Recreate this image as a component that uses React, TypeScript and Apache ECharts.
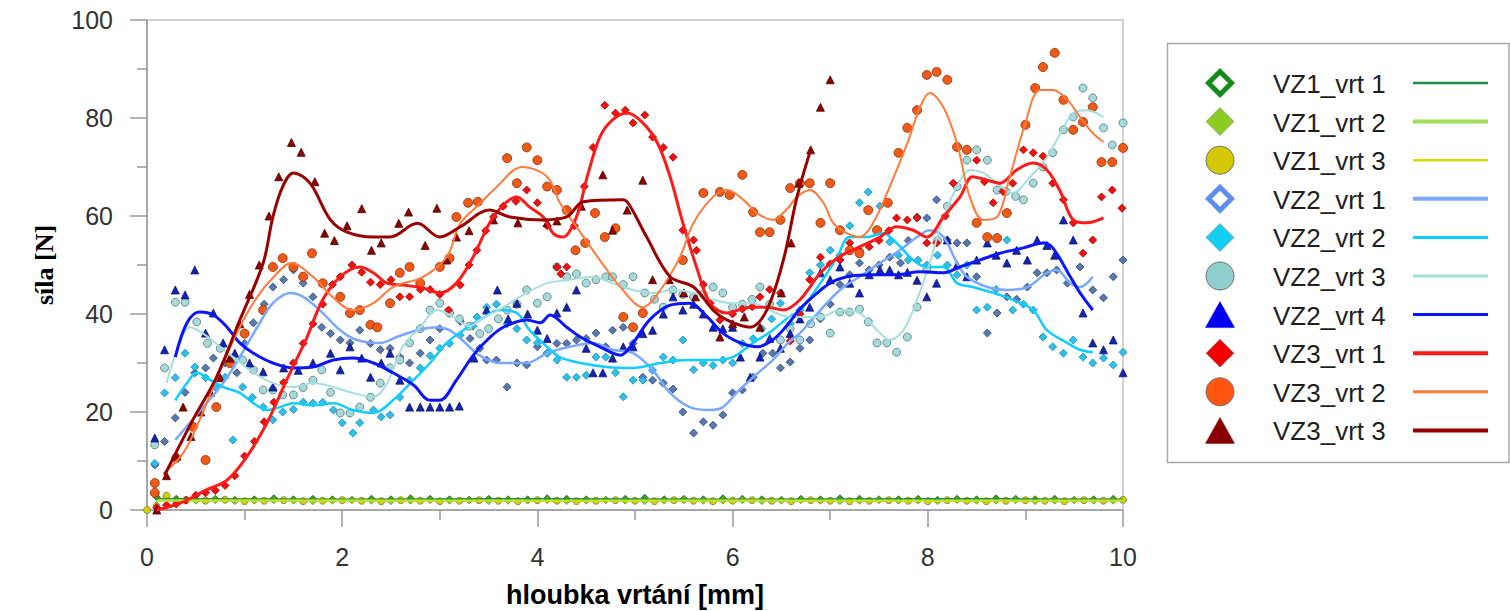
import React, { useEffect, useRef } from "react";
import * as echarts from "echarts";

type P = [number, number];

const X_MIN = 0, X_MAX = 10, X_STEP = 2;
const Y_MIN = 0, Y_MAX = 100, Y_STEP = 20;
const X_TITLE = "hloubka vrtání [mm]";
const Y_TITLE = "síla [N]";

const SERIES_NAMES = [
  "VZ1_vrt 1", "VZ1_vrt 2", "VZ1_vrt 3",
  "VZ2_vrt 1", "VZ2_vrt 2", "VZ2_vrt 3", "VZ2_vrt 4",
  "VZ3_vrt 1", "VZ3_vrt 2", "VZ3_vrt 3",
];

// VZ1 measurements (flat near 2 N)
const VZ1_DEPTH_A = [0.1,0.3,0.5,0.7,0.9,1.1,1.3,1.5,1.7,1.9,2.1,2.3,2.5,2.7,2.9,3.1,3.3,3.5,3.7,3.9,4.1,4.3,4.5,4.7,4.9,5.1,5.3,5.5,5.7,5.9,6.1,6.3,6.5,6.7,6.9,7.1,7.3,7.5,7.7,7.9,8.1,8.3,8.5,8.7,8.9,9.1,9.3,9.5,9.7,9.9];
const VZ1_DEPTH_B = [0,0.2,0.4,0.6,0.8,1.0,1.2,1.4,1.6,1.8,2.0,2.2,2.4,2.6,2.8,3.0,3.2,3.4,3.6,3.8,4.0,4.2,4.4,4.6,4.8,5.0,5.2,5.4,5.6,5.8,6.0,6.2,6.4,6.6,6.8,7.0,7.2,7.4,7.6,7.8,8.0,8.2,8.4,8.6,8.8,9.0,9.2,9.4,9.6,9.8,10.0];
const VZ1_VRT1_VALUES = [2.6,2.3,2.2,2.3,2.1,2.2,2.4,2.2,2.3,2.2,2.1,2.3,2.2,2.4,2.3,2.2,2.1,2.3,2.2,2.2,2.4,2.3,2.2,2.1,2.3,2.5,2.2,2.3,2.2,2.4,2.3,2.2,2.1,2.3,2.2,2.4,2.3,2.2,2.2,2.3,2.1,2.3,2.2,2.4,2.3,2.2,2.3,2.1,2.2,2.3];
const VZ1_VRT2_VALUES = [1.0,1.8,1.9,2.0,1.8,1.9,2.0,1.9,1.8,1.9,2.0,1.9,1.8,1.9,2.0,1.9,2.0,1.8,1.9,1.9,2.0,1.8,1.9,2.0,1.9,1.8,1.9,2.0,1.9,1.9,2.0,1.8,1.9,2.0,1.9,1.8,1.9,2.0,1.9,1.9,1.8,2.0,1.9,1.9,2.0,1.8,1.9,2.0,1.9,1.9];
const VZ1_VRT3_VALUES = [0,2.9,2.0,1.9,2.1,1.8,1.9,2.0,1.8,1.9,2.0,1.9,1.8,2.0,1.9,1.8,1.9,2.0,1.9,1.8,2.0,1.9,1.8,1.9,2.0,1.9,1.8,2.0,1.9,1.8,1.9,2.0,1.9,1.8,2.0,1.9,1.8,1.9,2.0,1.9,1.8,2.0,1.9,1.8,1.9,2.0,1.9,1.8,2.0,1.9,2.1];
const VZ1_VRT1_TREND: P[] = [[0.1,2.3],[2,2.2],[4,2.3],[6,2.2],[8,2.3],[10,2.2]];
const VZ1_VRT2_TREND: P[] = [[0.1,1.9],[2,1.9],[4,1.9],[6,1.9],[8,1.9],[10,1.9]];
const VZ1_VRT3_TREND: P[] = [[0.1,2.0],[2,2.0],[4,1.9],[6,2.0],[8,1.9],[10,2.0]];

// VZ2_vrt 1
const VZ2_VRT1_PTS: P[] = [[0.08,9.2],[0.18,14],[0.29,18.8],[0.39,24],[0.49,28],[0.6,29],[0.68,31],[0.8,30],[0.92,28],[1.0,34],[1.09,38.2],[1.2,42],[1.29,45.5],[1.4,47],[1.5,49],[1.6,46.3],[1.7,43.5],[1.79,37.3],[1.88,36],[1.98,34.7],[2.08,34.1],[2.18,36.7],[2.29,34],[2.39,32.7],[2.49,33],[2.59,31.2],[2.69,30],[2.8,32],[2.9,34.7],[3.0,37],[3.1,40.2],[3.21,38.5],[3.31,35],[3.41,33],[3.48,30.6],[3.58,30.6],[3.69,25.1],[3.79,30],[3.89,29.6],[4.0,33.3],[4.1,32],[4.2,34],[4.3,34],[4.4,34.7],[4.5,35],[4.6,36.1],[4.7,33.3],[4.77,36.7],[4.88,37.3],[4.98,34],[5.08,27.1],[5.18,26.5],[5.29,25.9],[5.39,24.7],[5.49,20],[5.6,15.7],[5.7,18],[5.8,17.3],[5.9,19.4],[6.0,23.9],[6.1,24.5],[6.21,27.1],[6.31,32],[6.41,32],[6.49,29],[6.59,30.2],[6.69,33],[6.79,34.7],[6.9,39],[7.0,42],[7.1,46],[7.2,48],[7.3,50.4],[7.4,49],[7.5,50],[7.61,51.6],[7.72,50.4],[7.8,55],[7.89,59.8],[7.99,59.6],[8.09,63.3],[8.2,55.1],[8.3,54.5],[8.4,54.5],[8.5,47.6],[8.61,36.1],[8.71,40.2],[8.81,43.5],[8.91,43],[9.02,45.5],[9.12,48.4],[9.22,48.4],[9.32,49],[9.43,46.3],[9.56,49.6],[9.69,44.9],[9.8,43.3],[9.9,47.6],[10.0,51]];
const VZ2_VRT1_TREND: P[] = [[0.29,14.3],[0.44,17.8],[0.61,21.8],[0.78,25.9],[0.95,31.2],[1.13,37.3],[1.29,42.2],[1.47,44.3],[1.6,43.5],[1.77,40.8],[1.98,36.7],[2.15,34.7],[2.39,34.1],[2.56,35.3],[2.77,36.7],[2.97,37.3],[3.1,36.7],[3.24,34.5],[3.41,31.5],[3.62,30],[3.89,30],[4.1,32],[4.33,33.3],[4.57,34.1],[4.77,32.7],[4.98,32],[5.18,28.6],[5.36,23.9],[5.56,21],[5.77,20.4],[5.9,21],[6.04,23.9],[6.21,27.1],[6.41,30.6],[6.59,34.5],[6.69,36.1],[6.9,40.8],[7.1,44.9],[7.3,47.6],[7.51,50.4],[7.72,53.1],[7.89,55.7],[8.02,57.1],[8.16,55.7],[8.3,50.4],[8.4,47.6],[8.61,45.5],[8.81,44.9],[9.02,45.5],[9.22,48.4],[9.32,49],[9.46,46.3],[9.56,45.5],[9.69,47.6]];

// VZ2_vrt 2
const VZ2_VRT2_PTS: P[] = [[0.08,9.5],[0.18,23.9],[0.29,27],[0.39,32],[0.49,29.2],[0.6,27],[0.7,25],[0.8,27.1],[0.88,14.3],[0.98,25.1],[1.08,23],[1.19,21],[1.29,18.4],[1.39,20],[1.5,20.5],[1.6,22],[1.7,21.8],[1.8,22],[1.91,20.4],[2.0,17.8],[2.11,15.7],[2.18,17.8],[2.32,20.4],[2.4,19],[2.49,19.4],[2.59,23],[2.69,26.5],[2.8,29],[2.9,31.5],[3.0,33],[3.1,34],[3.21,35.7],[3.34,37.5],[3.38,39.4],[3.48,41.4],[3.58,42],[3.69,38],[3.79,37],[3.89,34.7],[4.0,34.1],[4.1,32],[4.2,30.6],[4.3,27.1],[4.4,27.1],[4.5,27.5],[4.6,31.2],[4.7,31.2],[4.8,28],[4.88,23.1],[4.98,26.5],[5.08,26.5],[5.18,28.5],[5.29,31.2],[5.39,30.6],[5.49,34.7],[5.6,28.6],[5.7,30],[5.8,29.5],[5.9,30.6],[6.0,30],[6.1,34],[6.21,35],[6.3,37],[6.4,39],[6.49,42.2],[6.59,38],[6.69,40.8],[6.79,48.4],[6.9,50],[7.0,53],[7.1,52],[7.2,58],[7.3,62.7],[7.39,64.9],[7.51,62],[7.61,54.7],[7.7,52],[7.8,51],[7.9,51],[7.99,50],[8.1,52],[8.2,50],[8.3,48],[8.4,50],[8.5,40.8],[8.61,41.4],[8.7,45],[8.81,55.1],[8.87,40.8],[8.98,42],[9.08,40.8],[9.18,35.3],[9.28,33.3],[9.39,32],[9.49,34.7],[9.59,31.2],[9.69,30],[9.8,31],[9.9,29.6],[10.0,32.2]];
const VZ2_VRT2_TREND: P[] = [[0.29,22.4],[0.41,25.9],[0.51,28],[0.65,26.5],[0.78,25.1],[0.95,23.9],[1.09,21.8],[1.23,20.4],[1.36,21],[1.5,21.8],[1.7,21.4],[1.91,21.8],[2.11,20.4],[2.32,19.8],[2.52,22.4],[2.73,26.5],[2.9,30],[3.07,34.1],[3.24,36.7],[3.41,38.8],[3.62,40.8],[3.79,40.2],[3.92,36.7],[4.1,33.3],[4.23,31.2],[4.44,30],[4.71,29.2],[4.98,29],[5.26,30],[5.53,30.6],[5.8,30.6],[6.0,31.2],[6.21,34.1],[6.41,36.7],[6.55,39],[6.69,40.8],[6.9,46.3],[7.07,51.6],[7.2,55.7],[7.38,55.7],[7.54,56.5],[7.68,54.5],[7.85,51],[7.99,49.6],[8.16,49.6],[8.3,46.3],[8.46,45.5],[8.67,44.3],[8.87,42.9],[9.08,40.8],[9.22,36.7],[9.43,34.1],[9.56,32.7],[9.69,32.2]];

// VZ2_vrt 3
const VZ2_VRT3_PTS: P[] = [[0.08,13.3],[0.18,29],[0.29,42.4],[0.39,42.4],[0.51,38.4],[0.62,34],[0.75,33],[0.87,31],[0.98,30.6],[1.09,28.6],[1.19,24.5],[1.29,24.5],[1.39,23.5],[1.5,23.5],[1.6,25],[1.7,26.5],[1.79,28.6],[1.88,24],[1.98,19.8],[2.08,19.8],[2.18,21],[2.29,23],[2.39,25.9],[2.49,29],[2.59,30.6],[2.69,34.1],[2.8,37],[2.9,40.8],[3.0,42.2],[3.1,40.2],[3.2,39],[3.3,37.5],[3.41,36],[3.5,37],[3.6,39],[3.69,40.8],[3.79,42],[3.89,44.9],[4.0,42.2],[4.1,43.5],[4.2,49.6],[4.3,47.6],[4.4,48.2],[4.5,46.3],[4.6,47],[4.7,47.6],[4.77,47.6],[4.88,46],[4.98,47.6],[5.1,44.3],[5.2,43],[5.29,41.4],[5.39,44.9],[5.49,44],[5.6,43.5],[5.7,44],[5.8,45.5],[5.9,44.3],[6.0,41.4],[6.1,42],[6.2,43],[6.28,45.5],[6.38,42],[6.49,34.7],[6.59,37],[6.69,34.7],[6.8,38],[6.9,39.4],[7.0,36.1],[7.1,40.4],[7.2,40.4],[7.3,41],[7.39,38.4],[7.48,34.1],[7.58,34.1],[7.68,32.2],[7.79,35.3],[7.89,41.4],[7.99,49],[8.1,55],[8.2,62],[8.3,66],[8.4,71.4],[8.5,73.5],[8.61,71.4],[8.71,65.3],[8.8,65],[8.9,64],[8.98,63.3],[9.08,66.7],[9.18,70],[9.28,72.9],[9.39,77.6],[9.49,80.2],[9.59,86.1],[9.69,84.1],[9.8,78],[9.89,74.5],[10.0,79]];
const VZ2_VRT3_TREND: P[] = [[0.2,25.9],[0.31,32.7],[0.44,37.3],[0.57,36.1],[0.75,33.3],[0.92,30.6],[1.09,28],[1.29,25.9],[1.5,25.1],[1.7,25.9],[1.91,25.1],[2.11,23.9],[2.32,23.1],[2.46,25.9],[2.62,33.3],[2.8,37.3],[2.97,40.8],[3.14,39.4],[3.3,37.5],[3.41,38.8],[3.65,41.4],[3.89,44.3],[4.1,46.3],[4.3,46.9],[4.57,47.6],[4.77,46.3],[4.98,44.9],[5.18,44.3],[5.39,44.9],[5.6,44.3],[5.8,42.9],[6.0,42.2],[6.21,42.2],[6.38,40.8],[6.55,39.5],[6.69,39.4],[6.9,39.4],[7.1,40.8],[7.3,40.2],[7.48,36.7],[7.61,34.7],[7.75,36.7],[7.89,42.9],[8.02,50.4],[8.16,59.8],[8.3,66],[8.43,69.4],[8.57,68.8],[8.71,66.7],[8.87,64.7],[9.05,68],[9.22,72],[9.36,76.9],[9.49,81],[9.63,81.6],[9.8,80.2]];

// VZ2_vrt 4
const VZ2_VRT4_PTS: P[] = [[0.08,14.7],[0.18,32.7],[0.29,44.9],[0.39,43.9],[0.49,49],[0.6,36.1],[0.68,40.2],[0.78,34.1],[0.9,32],[1.05,30],[1.19,28.2],[1.29,25.1],[1.4,29],[1.55,28.5],[1.7,30],[1.88,32],[1.98,28.6],[2.08,33.3],[2.2,31],[2.29,27.1],[2.4,30],[2.49,32],[2.59,26.5],[2.69,21],[2.8,21],[2.9,21],[3.0,21],[3.1,21],[3.2,21.2],[3.35,31],[3.48,40.8],[3.59,44.9],[3.7,39],[3.79,42.2],[3.9,40],[4.0,36.7],[4.1,35],[4.2,40.2],[4.3,41.4],[4.4,44.9],[4.5,33],[4.57,28],[4.67,28],[4.77,31],[4.88,33.3],[4.98,33.3],[5.08,36],[5.18,36.7],[5.29,40],[5.39,43.5],[5.49,40.8],[5.6,42],[5.7,40],[5.8,37.3],[5.9,37],[6.0,37.3],[6.08,31.2],[6.18,27.1],[6.28,31.2],[6.38,35],[6.49,33],[6.59,36],[6.69,39],[6.79,41.4],[6.9,48.4],[7.0,47],[7.1,49.6],[7.2,46.3],[7.3,44.3],[7.4,48],[7.51,49],[7.61,49],[7.7,48],[7.79,48.5],[7.89,46.9],[7.99,43.5],[8.09,46.3],[8.2,55.1],[8.3,50],[8.4,47.6],[8.5,51],[8.61,54.5],[8.7,52],[8.81,50.4],[8.91,53],[9.02,51],[9.12,55.1],[9.22,54],[9.3,52],[9.39,59.2],[9.49,55.1],[9.59,40.2],[9.69,34.1],[9.8,32.7],[9.9,34.7],[10.0,28]];
const VZ2_VRT4_TREND: P[] = [[0.29,31.2],[0.41,38.2],[0.54,40.4],[0.68,39.8],[0.82,37.3],[0.95,34.1],[1.09,32],[1.29,30],[1.5,29],[1.7,29.2],[1.91,30.6],[2.11,31],[2.32,30],[2.52,28],[2.73,25.5],[2.9,22.4],[3.0,22.4],[3.17,26.5],[3.34,31.5],[3.5,35],[3.65,37.3],[3.89,38.8],[4.03,38.2],[4.13,39.8],[4.3,37.3],[4.44,35.3],[4.64,33.3],[4.85,31.6],[4.98,34.1],[5.15,38.8],[5.36,41.8],[5.56,42.2],[5.74,39.4],[5.9,36.1],[6.08,34.1],[6.25,33.3],[6.41,34.7],[6.55,37.5],[6.69,41],[6.85,44],[7.0,46.3],[7.17,47.6],[7.44,48],[7.68,48],[7.92,48.6],[8.16,48.4],[8.33,49.6],[8.53,51],[8.74,52.4],[8.98,53.5],[9.18,54.5],[9.28,53.5],[9.46,47.6],[9.56,44.3],[9.69,40.8]];

// VZ3_vrt 1
const VZ3_VRT1_PTS: P[] = [[0.1,0.5],[0.2,1],[0.3,1.2],[0.4,2],[0.5,3],[0.6,3.5],[0.7,4],[0.8,5],[0.9,7],[1.0,11],[1.1,14],[1.2,18],[1.3,22],[1.4,26],[1.5,30],[1.6,34],[1.7,38],[1.8,42],[1.9,46],[1.98,47.6],[2.1,50],[2.2,48.5],[2.29,46.5],[2.39,46],[2.5,47],[2.59,43.5],[2.69,43.5],[2.8,45],[2.9,45],[3.0,44],[3.09,40.8],[3.21,45.9],[3.3,50],[3.38,53],[3.47,57],[3.55,59.8],[3.65,62],[3.78,63],[3.89,65.3],[4.0,62.7],[4.1,58],[4.2,49.6],[4.3,49.6],[4.24,48.2],[4.38,58],[4.48,66],[4.57,74],[4.69,82.6],[4.8,81],[4.9,81.6],[4.98,79],[5.1,80.6],[5.18,76.1],[5.29,74],[5.39,72],[5.49,57.1],[5.6,55.1],[5.63,53],[5.7,46],[5.77,42.2],[5.87,38.8],[6.0,40],[6.1,41],[6.2,41.5],[6.28,43.5],[6.38,45],[6.49,44.3],[6.59,34.5],[6.69,40],[6.79,47],[6.9,51.6],[7.0,50.2],[7.1,51],[7.2,54.5],[7.3,53],[7.4,53.7],[7.5,55],[7.6,57],[7.68,59.6],[7.79,59.2],[7.89,59.6],[7.99,54.5],[8.09,54.5],[8.18,60],[8.26,66.7],[8.4,73.5],[8.5,71.4],[8.58,67],[8.67,62.7],[8.77,65],[8.87,66.7],[8.98,73.5],[9.08,72.9],[9.18,72.2],[9.28,66.7],[9.39,63.3],[9.49,58.6],[9.59,52.4],[9.69,55.1],[9.78,63.9],[9.89,65.3],[9.99,61.6]];
const VZ3_VRT1_TREND: P[] = [[0.1,0],[0.34,1.4],[0.61,4.1],[0.82,6.1],[1.02,10.8],[1.23,17.8],[1.43,26.5],[1.64,35.3],[1.8,42.9],[1.98,47.6],[2.18,49.6],[2.32,48.4],[2.46,46.3],[2.62,45.9],[2.83,45.3],[3.0,44.3],[3.17,46.3],[3.34,51.6],[3.55,59.8],[3.79,63.9],[3.92,61.8],[4.06,59.8],[4.16,56.5],[4.26,55.7],[4.4,59.8],[4.51,68],[4.64,76.1],[4.77,79.6],[4.92,81],[5.08,79],[5.23,74.9],[5.36,68],[5.49,58.6],[5.64,49],[5.77,42.2],[5.94,40.2],[6.18,41.4],[6.35,41.4],[6.52,40.8],[6.69,42.9],[6.9,48.4],[7.07,51.4],[7.3,53.7],[7.51,55.7],[7.68,57.8],[7.85,57.1],[7.99,55.7],[8.16,59.8],[8.33,63.9],[8.46,68],[8.61,67.3],[8.74,66.7],[8.91,69.4],[9.08,70.8],[9.22,69.4],[9.35,65.3],[9.49,59.2],[9.63,58.6],[9.8,59.6]];

// VZ3_vrt 2
const VZ3_VRT2_PTS: P[] = [[0.08,5.5],[0.08,3.5],[0.3,10.6],[0.47,17],[0.6,10.2],[0.71,21],[0.85,30],[1.0,36],[1.19,40.8],[1.29,49.6],[1.39,51.4],[1.5,49.6],[1.6,47.6],[1.69,52.4],[1.8,46.3],[1.98,43.5],[2.08,40.2],[2.18,40.8],[2.29,37.8],[2.36,37.3],[2.49,42.2],[2.59,48.4],[2.69,49.6],[2.8,46.3],[3.0,49.6],[3.1,51.4],[3.17,59.8],[3.29,62.7],[3.39,62.9],[3.69,71.8],[3.79,66.7],[3.89,74],[4.0,71.4],[4.1,66],[4.2,65.3],[4.3,61.2],[4.39,53],[4.49,54.5],[4.59,60.6],[4.69,55.7],[4.8,57.5],[4.88,39.4],[4.98,37.3],[5.08,40.2],[5.49,51],[5.7,64.7],[5.87,64.9],[5.97,64.3],[6.1,68.4],[6.21,60.8],[6.28,56.7],[6.38,56.7],[6.49,59.2],[6.59,65.7],[6.69,66.7],[6.79,66.7],[6.9,58.6],[7.0,66.7],[7.1,57.1],[7.2,53],[7.3,52.4],[7.39,61.2],[7.48,57.1],[7.59,62.7],[7.7,72.9],[7.79,78],[7.89,81.6],[7.99,88.8],[8.09,89.4],[8.2,87.8],[8.3,74.1],[8.4,73.5],[8.5,58.6],[8.61,55.7],[8.71,55.5],[8.81,60.6],[9.0,78.6],[9.1,86.1],[9.18,90.4],[9.3,93.3],[9.39,83.7],[9.49,77.6],[9.59,79.2],[9.69,82.2],[9.78,71],[9.89,71],[10.0,73.9]];
const VZ3_VRT2_TREND: P[] = [[0.17,7.5],[0.37,11.6],[0.54,18.4],[0.75,28.6],[0.95,37.3],[1.13,43.5],[1.3,47.6],[1.48,50.4],[1.7,47.6],[1.9,43.5],[2.11,40.8],[2.32,42.2],[2.52,45.5],[2.83,47.6],[3.07,51.6],[3.21,58.5],[3.41,62.5],[3.55,65.3],[3.85,70],[4.1,68],[4.23,62.7],[4.4,57.8],[4.64,51],[4.85,45.5],[5.08,41.4],[5.26,44.9],[5.46,51.6],[5.6,58.6],[5.8,63.9],[5.94,65.3],[6.11,63.3],[6.25,60.6],[6.41,59.2],[6.56,61.5],[6.66,63.9],[6.79,65.3],[6.93,62.7],[7.03,58.6],[7.17,56.5],[7.3,55.7],[7.44,58.6],[7.61,66],[7.79,74.8],[7.92,82.2],[8.02,85.1],[8.16,82.2],[8.3,74.8],[8.43,63.9],[8.57,59.2],[8.71,59.8],[8.84,68],[8.98,77.6],[9.15,85.7],[9.28,85.7],[9.43,83.7],[9.56,80.2],[9.69,76.9],[9.8,75.1]];

// VZ3_vrt 3
const VZ3_VRT3_PTS: P[] = [[0.1,0],[0.2,7],[0.3,11],[0.37,21],[0.45,15],[0.55,20],[0.65,24],[0.75,27],[0.85,31],[0.95,38],[1.05,44],[1.15,50],[1.25,60],[1.35,68],[1.48,75],[1.58,73],[1.72,67],[1.82,56.5],[1.92,55],[2.05,58],[2.2,61.5],[2.3,53],[2.4,54.5],[2.58,58.5],[2.68,60.8],[2.85,54],[2.97,61.6],[3.07,51],[3.17,55.7],[3.3,57],[3.55,59.2],[3.8,58.6],[4.1,58.6],[4.2,59],[4.45,62],[4.67,68.4],[4.77,57.1],[4.92,61.2],[5.08,67.3],[5.18,47],[5.35,47],[5.5,44.3],[5.62,43.5],[5.87,35.3],[6.0,38],[6.12,39.4],[6.28,37.3],[6.5,44.3],[6.6,54.5],[6.68,66.7],[6.8,73.5],[6.9,82.2],[7.0,87.8]];
const VZ3_VRT3_TREND: P[] = [[0.18,7.1],[0.47,18.4],[0.71,27],[0.95,38.7],[1.19,50.4],[1.29,59.8],[1.39,66],[1.5,68.8],[1.67,66.7],[1.88,59.2],[2.05,56.7],[2.32,55.7],[2.49,55.7],[2.77,58.5],[3.0,55.7],[3.21,57.8],[3.51,61.2],[3.72,59.8],[4.06,59.2],[4.3,59.8],[4.47,62.9],[4.88,63.3],[4.95,62],[5.12,55.7],[5.36,47.6],[5.6,45.5],[5.8,40.8],[5.94,38.8],[6.18,37.3],[6.35,40.8],[6.52,51],[6.66,63.9],[6.8,73.5]];

const zip = (xs: number[], ys: number[]): P[] =>
  xs.slice(0, Math.min(xs.length, ys.length)).map((x, i) => [x, ys[i]] as P);

const POINTS: P[][] = [
  zip(VZ1_DEPTH_A, VZ1_VRT1_VALUES),
  zip(VZ1_DEPTH_A, VZ1_VRT2_VALUES),
  zip(VZ1_DEPTH_B, VZ1_VRT3_VALUES),
  VZ2_VRT1_PTS, VZ2_VRT2_PTS, VZ2_VRT3_PTS, VZ2_VRT4_PTS,
  VZ3_VRT1_PTS, VZ3_VRT2_PTS, VZ3_VRT3_PTS,
];
const TRENDS: P[][] = [
  VZ1_VRT1_TREND, VZ1_VRT2_TREND, VZ1_VRT3_TREND,
  VZ2_VRT1_TREND, VZ2_VRT2_TREND, VZ2_VRT3_TREND, VZ2_VRT4_TREND,
  VZ3_VRT1_TREND, VZ3_VRT2_TREND, VZ3_VRT3_TREND,
];

// styling (not data)
const STYLE = [
  { sym: "diamond", size: 7, fill: "#2f9a2f", edge: "#136b13", line: "#1f8f3f", lw: 1.5, lg: "hollowDiamond", lgc: "#138a1a", lgw: 2.5 },
  { sym: "diamond", size: 7, fill: "#9acd32", edge: "#6a9a1a", line: "#9ee05a", lw: 2, lg: "diamond", lgc: "#8ccc22", lgw: 4 },
  { sym: "circle", size: 7, fill: "#d6d000", edge: "#777744", line: "#dcdc00", lw: 1.5, lg: "circle", lgc: "#d4c800", lgw: 2.5 },
  { sym: "diamond", size: 8, fill: "#5a78b0", edge: "#2c4470", line: "#7aa8ff", lw: 2.5, lg: "hollowDiamond", lgc: "#5b8ef0", lgw: 4 },
  { sym: "diamond", size: 8, fill: "#2cc0ea", edge: "#1a86aa", line: "#10ccff", lw: 2.5, lg: "diamond", lgc: "#14cdf0", lgw: 3 },
  { sym: "circle", size: 8, fill: "#a8d8d8", edge: "#4e7c7c", line: "#a6dede", lw: 2, lg: "circle", lgc: "#8fcfcf", lgw: 3 },
  { sym: "triangle", size: 8, fill: "#1524b0", edge: "#0a1470", line: "#0a14ff", lw: 3, lg: "triangle", lgc: "#0000ee", lgw: 3 },
  { sym: "diamond", size: 8, fill: "#f01010", edge: "#a00000", line: "#ff1a1a", lw: 3, lg: "diamond", lgc: "#f00000", lgw: 4 },
  { sym: "circle", size: 9, fill: "#f05a14", edge: "#8a3010", line: "#ff7a3a", lw: 2, lg: "circle", lgc: "#ff5510", lgw: 3 },
  { sym: "triangle", size: 8, fill: "#8a0000", edge: "#500000", line: "#990000", lw: 3, lg: "triangle", lgc: "#880000", lgw: 4 },
];

function legendGraphics() {
  const els: any[] = [
    { type: "rect", shape: { x: 1167.5, y: 43.5, width: 341.5, height: 419 }, style: { fill: "#fff", stroke: "#a8a8a8", lineWidth: 1.5 }, z: 10 },
  ];
  SERIES_NAMES.forEach((name, i) => {
    const cy = 83 + 38.6 * i;
    const cx = 1220;
    const s = STYLE[i];
    if (s.lg === "hollowDiamond") {
      els.push({ type: "polygon", shape: { points: [[cx, cy - 11.5], [cx + 11.5, cy], [cx, cy + 11.5], [cx - 11.5, cy]] }, style: { fill: "#fff", stroke: s.lgc, lineWidth: 5 }, z: 11 });
    } else if (s.lg === "diamond") {
      els.push({ type: "polygon", shape: { points: [[cx, cy - 14], [cx + 14, cy], [cx, cy + 14], [cx - 14, cy]] }, style: { fill: s.lgc, stroke: "#8a8a8a", lineWidth: 0.6 }, z: 11 });
    } else if (s.lg === "circle") {
      els.push({ type: "circle", shape: { cx, cy, r: 14 }, style: { fill: s.lgc, stroke: "#6f6f6f", lineWidth: 1 }, z: 11 });
    } else {
      els.push({ type: "polygon", shape: { points: [[cx, cy - 13], [cx + 14.5, cy + 13], [cx - 14.5, cy + 13]] }, style: { fill: s.lgc, stroke: s.lgc, lineWidth: 0.5 }, z: 11 });
    }
    els.push({ type: "text", x: 1273, y: cy + 1, style: { text: name, fill: "#1e1e1e", font: "26px 'Liberation Sans', Arial, sans-serif", verticalAlign: "middle", align: "left" }, z: 11 });
    els.push({ type: "line", shape: { x1: 1413, y1: cy, x2: 1488, y2: cy }, style: { stroke: s.line, lineWidth: s.lgw }, z: 11 });
  });
  return els;
}

function buildOption(): any {
  const scatter = SERIES_NAMES.map((name, i) => ({
    name,
    type: "scatter",
    data: POINTS[i],
    symbol: STYLE[i].sym,
    symbolSize: STYLE[i].size,
    itemStyle: { color: STYLE[i].fill, borderColor: STYLE[i].edge, borderWidth: 0.8, opacity: 1 },
    z: 2,
  }));
  const lines = SERIES_NAMES.map((name, i) => ({
    name,
    type: "line",
    data: TRENDS[i],
    smooth: 0.35,
    showSymbol: false,
    symbol: "none",
    lineStyle: { color: STYLE[i].line, width: STYLE[i].lw },
    z: 3,
  }));
  const tickFont = { fontFamily: "'Liberation Sans', Arial, sans-serif", fontSize: 25, color: "#333" };
  return {
    animation: false,
    backgroundColor: "#fff",
    grid: {
      left: 147, top: 20, width: 976, height: 490,
      containLabel: false, outerBoundsMode: "none",
      show: true, borderColor: "#d2d2d2", borderWidth: 2, backgroundColor: "transparent",
    },
    xAxis: {
      type: "value", min: X_MIN, max: X_MAX, interval: X_STEP,
      name: X_TITLE, nameLocation: "middle", nameGap: 71,
      nameTextStyle: { fontFamily: "'Liberation Sans', Arial, sans-serif", fontWeight: "bold", fontSize: 27, color: "#000", lineHeight: 28 },
      axisLine: { show: true, lineStyle: { color: "#9a9a9a", width: 1.5 } },
      axisTick: { show: true, length: 17, lineStyle: { color: "#9a9a9a", width: 1.5 } },
      minorTick: { show: true, splitNumber: 2, length: 10, lineStyle: { color: "#9a9a9a", width: 1.5 } },
      splitLine: { show: false },
      axisLabel: { ...tickFont, margin: 34 },
    },
    yAxis: {
      type: "value", min: Y_MIN, max: Y_MAX, interval: Y_STEP,
      name: Y_TITLE, nameLocation: "middle", nameGap: 90, nameRotate: 90,
      nameTextStyle: { fontFamily: "'Liberation Serif', 'Times New Roman', serif", fontWeight: "bold", fontSize: 26, color: "#000" },
      axisLine: { show: true, lineStyle: { color: "#9a9a9a", width: 1.5 } },
      axisTick: { show: true, length: 17, lineStyle: { color: "#9a9a9a", width: 1.5 } },
      minorTick: { show: true, splitNumber: 2, length: 10, lineStyle: { color: "#9a9a9a", width: 1.5 } },
      splitLine: { show: false },
      axisLabel: { ...tickFont, margin: 34 },
    },
    series: [...scatter, ...lines],
    graphic: legendGraphics(),
  };
}

export default function App() {
  const ref = useRef<HTMLDivElement>(null);
  useEffect(() => {
    document.documentElement.style.overflow = "hidden";
    document.body.style.margin = "0";
    document.body.style.overflow = "hidden";
    if (!ref.current) return;
    const chart = echarts.init(ref.current, null, { renderer: "svg" });
    chart.setOption(buildOption());
    return () => chart.dispose();
  }, []);
  return (
    <div
      ref={ref}
      style={{ position: "absolute", left: 0, top: 0, width: 1510, height: 611, overflow: "hidden" }}
    />
  );
}
